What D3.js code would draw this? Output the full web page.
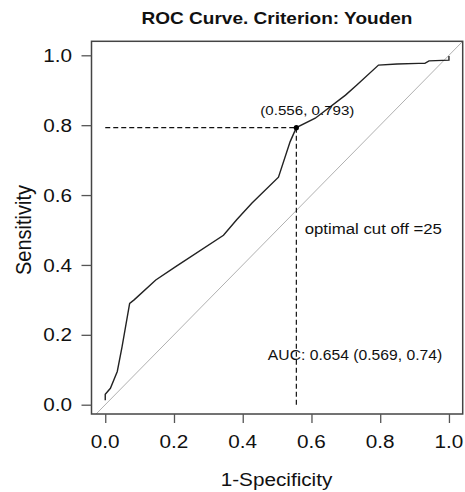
<!DOCTYPE html>
<html><head><meta charset="utf-8">
<script src="https://cdn.jsdelivr.net/npm/d3@7"></script>
<style>body{margin:0;background:#fff}svg{display:block}text{font-family:"Liberation Sans",Arial,sans-serif;fill:#111}</style>
</head><body>
<script>
const fpr = [0, 0, 0.015, 0.035, 0.049, 0.071, 0.084, 0.147, 0.205, 0.344, 0.383, 0.427, 0.504, 0.538, 0.556, 0.611, 0.699, 0.732, 0.795, 0.849, 0.912, 0.93, 0.942, 1.0, 1.0];
const tpr = [0.013, 0.03, 0.047, 0.095, 0.166, 0.29, 0.30, 0.357, 0.395, 0.485, 0.53, 0.577, 0.651, 0.753, 0.793, 0.82, 0.886, 0.915, 0.972, 0.975, 0.977, 0.977, 0.984, 0.986, 0.998];
const xTicks = [0, 0.2, 0.4, 0.6, 0.8, 1.0];
const yTicks = [0, 0.2, 0.4, 0.6, 0.8, 1.0];
const optimal = [0.556, 0.793];
const titleText = "ROC Curve. Criterion: Youden";
const xLabel = "1-Specificity", yLabel = "Sensitivity";
const cutText = "optimal cut off =25";
const aucText = "AUC: 0.654 (0.569, 0.74)";

const W = 465, H = 492, SX = 1.12;
const svg = d3.select("body").append("svg").attr("width", W).attr("height", H);
const x = d3.scaleLinear().domain([-0.04, 1.04]).range([91.5, 462.7]);
const y = d3.scaleLinear().domain([0, 1]).range([404.7, 55.3]);
const box = {x0: 91.5, x1: 462.7, y0: 41.3, y1: 414};

function txt(px, py, s, size, anchor, weight) {
  return svg.append("text")
    .attr("transform", `translate(${px},${py}) scale(${SX},1)`)
    .attr("text-anchor", anchor || "middle")
    .attr("dominant-baseline", "central")
    .style("font-size", size + "px")
    .style("font-weight", weight || "normal")
    .text(s);
}

svg.append("defs").append("clipPath").attr("id", "clip")
  .append("rect").attr("x", box.x0).attr("y", box.y0).attr("width", box.x1 - box.x0).attr("height", box.y1 - box.y0);

// diagonal reference
svg.append("line").attr("clip-path", "url(#clip)")
  .attr("x1", x(-0.1)).attr("y1", y(-0.1)).attr("x2", x(1.1)).attr("y2", y(1.1))
  .attr("stroke", "#b0b0b0").attr("stroke-width", 1);

// ROC curve
const pts = fpr.map((d, i) => [d, tpr[i]]);
svg.append("path").datum(pts)
  .attr("d", d3.line().x(d => x(d[0])).y(d => y(d[1])))
  .attr("fill", "none").attr("stroke", "#222").attr("stroke-width", 1.4);

// dashed guides
svg.append("line").attr("x1", x(0)).attr("x2", x(optimal[0])).attr("y1", y(optimal[1])).attr("y2", y(optimal[1]))
  .attr("stroke", "#111").attr("stroke-width", 1.2).attr("stroke-dasharray", "5,3");
svg.append("line").attr("x1", x(optimal[0])).attr("x2", x(optimal[0])).attr("y1", y(optimal[1])).attr("y2", y(0))
  .attr("stroke", "#111").attr("stroke-width", 1.2).attr("stroke-dasharray", "5,3");
svg.append("circle").attr("cx", x(optimal[0])).attr("cy", y(optimal[1])).attr("r", 2.6).attr("fill", "#000");

// box
svg.append("rect").attr("x", box.x0).attr("y", box.y0).attr("width", box.x1 - box.x0).attr("height", box.y1 - box.y0)
  .attr("fill", "none").attr("stroke", "#444").attr("stroke-width", 1.5);

// axes
const gx = svg.append("g").attr("transform", `translate(0,${box.y1})`)
  .call(d3.axisBottom(x).tickValues(xTicks).tickSize(9).tickFormat(d3.format(".1f")));
const gy = svg.append("g").attr("transform", `translate(${box.x0},0)`)
  .call(d3.axisLeft(y).tickValues(yTicks).tickSize(10).tickFormat(d3.format(".1f")));
[gx, gy].forEach(g => {
  g.select(".domain").remove();
  g.selectAll(".tick line").attr("stroke", "#555").attr("stroke-width", 1.3);
  g.selectAll(".tick text").remove();
});
xTicks.forEach(t => txt(x(t), 441.5, d3.format(".1f")(t), 18.5));
yTicks.forEach(t => txt(72, y(t), d3.format(".1f")(t), 18.5, "end"));

// titles
txt(277, 18, titleText, 17, "middle", "bold");
txt(276.5, 479.5, xLabel, 18.5);
svg.append("text")
  .attr("transform", `translate(23,230) scale(${SX},1) rotate(-90)`)
  .attr("text-anchor", "middle").attr("dominant-baseline", "central")
  .style("font-size", "20px").text(yLabel);

// annotations
txt(x(optimal[0]) + 11, y(optimal[1]) - 17, "(" + optimal[0] + ", " + optimal[1] + ")", 13.5);
txt(373.3, 229, cutText, 15);
txt(355, 355.5, aucText, 14);
</script>
</body></html>
